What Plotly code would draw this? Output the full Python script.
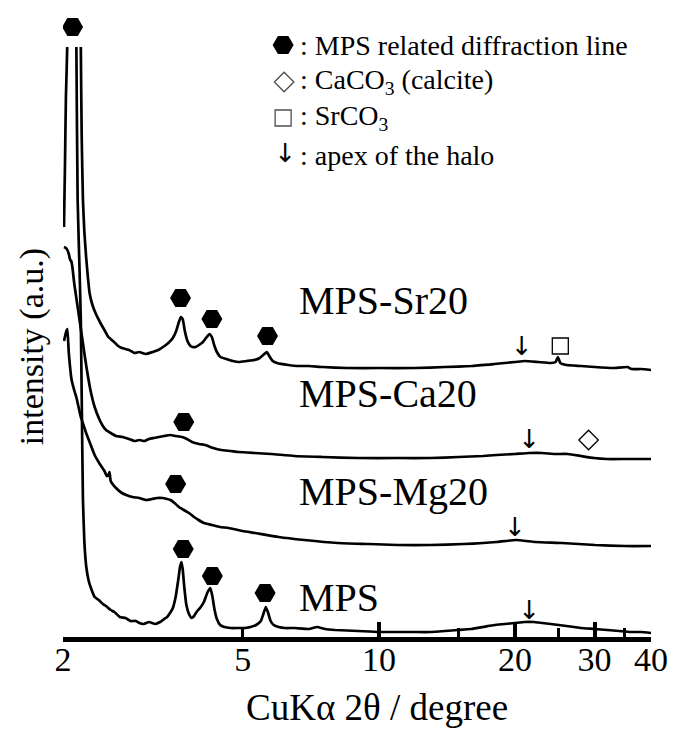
import plotly.graph_objects as go

# ---------------- data (2θ in degrees, intensity in arbitrary stacked units) ----------------
mps_x = [2.01, 2.02, 2.03, 2.046, 2.07, 2.09, 2.11, 2.13, 2.141, 2.155, 2.175, 2.19, 2.2, 2.214,
         2.23, 2.252, 2.28, 2.31, 2.35, 2.4, 2.45, 2.49, 2.55, 2.6, 2.67, 2.75, 2.82, 2.9, 2.95,
         3.02, 3.1, 3.2, 3.28, 3.35, 3.4, 3.45, 3.5, 3.55, 3.6, 3.63, 3.656, 3.68, 3.71, 3.75,
         3.8, 3.853, 3.9, 3.95, 4.02, 4.1, 4.17, 4.236, 4.28, 4.33, 4.38, 4.455, 4.55, 4.7,
         4.886, 5.05, 5.2, 5.35, 5.48, 5.56, 5.62, 5.68, 5.76, 5.85, 6.0, 6.2, 6.5, 7.0, 7.3,
         7.6, 8.0, 9.0, 10, 11, 12, 13, 14, 15, 16, 17, 18, 19, 20, 21, 22, 23, 24, 25, 26, 27,
         28, 30, 32, 34, 36, 38, 40]
mps_y = [410, 470, 540, 600, 1000, 1400, 1300, 800, 590, 437, 370, 317, 240, 137,
         95, 70, 56, 48, 40, 37, 33, 31, 27, 25, 20, 19, 16, 16, 14,
         13, 15, 13, 15, 18, 20, 24, 29, 40, 58, 70, 75, 68, 50, 32,
         23, 19, 21, 25, 29, 35, 44, 49, 41, 27, 18, 12, 10, 9,
         9, 9, 10, 12, 16, 24, 30, 25, 16, 12, 10, 9, 9, 8, 10,
         8, 7, 6, 5, 5, 5, 5, 6, 7, 8, 10, 12, 13, 14, 15, 15, 14, 13, 12, 11, 10,
         9, 8, 7, 6, 5, 5, 4]

sr_x = [2.0, 2.05, 2.1, 2.15, 2.19, 2.2, 2.214, 2.23, 2.25, 2.27, 2.29, 2.32, 2.36, 2.42, 2.47,
        2.52, 2.58, 2.65, 2.7, 2.8, 2.88, 2.95, 3.05, 3.16, 3.25, 3.33, 3.42, 3.5, 3.56, 3.61,
        3.645, 3.68, 3.72, 3.77, 3.83, 3.87, 3.93, 4.0, 4.08, 4.16, 4.22, 4.27, 4.32, 4.38,
        4.46, 4.6, 4.75, 4.9, 5.1, 5.3, 5.45, 5.58, 5.65, 5.72, 5.82, 5.95, 6.3, 6.6, 7.0, 7.5,
        8.5, 10, 12, 14, 16, 18, 20, 21, 22.5, 24, 24.6, 24.9, 25.2, 26, 28, 30, 33, 35.5,
        36.2, 38, 40]
sr_y = [900, 1300, 1800, 1200, 590, 500, 437, 405, 380, 360, 344, 333, 324, 314, 307,
        300, 296, 291, 289, 287, 284, 285, 283, 285, 287, 290, 294, 299, 306, 315,
        320, 318, 306, 296, 291, 290, 290, 292, 295, 300, 303, 300, 292, 285,
        280, 278, 276, 275, 276, 277, 279, 283, 285, 281, 276, 274, 272, 271, 271, 270,
        269, 269, 269, 270, 271, 273, 275, 276, 275, 274, 275, 280, 274, 272, 271, 270, 269, 270,
        268, 268, 267]

ca_x = [2.01, 2.03, 2.045, 2.06, 2.075, 2.085, 2.095, 2.12, 2.16, 2.2, 2.25, 2.3, 2.35, 2.4,
        2.45, 2.49, 2.55, 2.62, 2.71, 2.8, 2.88, 2.95, 3.03, 3.1, 3.18, 3.26, 3.35, 3.45, 3.55,
        3.67, 3.76, 3.86, 4.0, 4.13, 4.3, 4.48, 4.7, 4.89, 5.3, 5.78, 6.5, 7.5, 9, 11, 13, 15,
        17, 18.2, 20, 21.5, 23, 24.5, 26.2, 28, 29.9, 32, 35, 40]
ca_y = [390, 389, 387, 383, 377, 376, 372, 352, 327, 302, 272, 247, 230, 219,
        211, 207, 204, 201, 200, 198, 196, 197, 196, 198, 199, 200, 201, 202, 201,
        200, 198, 195, 193, 192, 189, 187, 186, 185, 184, 183, 181, 180, 179, 179, 179, 180,
        181, 182, 183, 184, 184, 183, 183, 181, 179, 178, 178, 178]

mg_x = [2.01, 2.035, 2.045, 2.06, 2.09, 2.12, 2.14, 2.17, 2.19, 2.22, 2.25, 2.29, 2.35, 2.42,
        2.47, 2.5, 2.52, 2.535, 2.55, 2.62, 2.7, 2.76, 2.85, 2.95, 3.05, 3.15, 3.23, 3.32, 3.4,
        3.46, 3.53, 3.61, 3.7, 3.8, 3.9, 3.99, 4.1, 4.27, 4.45, 4.65, 5.0, 5.32, 6.0, 6.84, 8.1,
        9.5, 11, 13, 15.4, 17, 18.2, 20.1, 22.2, 25.4, 30.1, 35, 40]
mg_y = [296, 306, 308, 284, 257, 246, 240, 228, 220, 212, 204, 195, 182, 172,
        166, 161, 162, 165, 156, 149, 144, 142, 140, 139, 137, 138, 139, 139, 138,
        137, 134, 130, 127, 124, 120, 117, 114, 112, 110, 109, 106, 104, 100, 97, 94,
        93, 92, 92, 93, 94, 95, 97, 95, 94, 92, 91, 91]

# marker annotations on the patterns
hex_x = [2.10, 3.64, 4.27, 5.67, 3.70, 3.55, 3.69, 4.28, 5.60]
hex_y = [610, 339, 318, 301, 215, 153, 88, 61, 44]
arrow_x = [20.7, 21.5, 20.0, 21.5]
arrow_y = [289, 196, 108, 25]
calcite_x = [29.1]
calcite_y = [197]
srco3_x = [25.2]
srco3_y = [291]

sample_labels = ["MPS-Sr20", "MPS-Ca20", "MPS-Mg20", "MPS"]
legend_texts = [": MPS related diffraction line", ": CaCO<sub>3</sub> (calcite)",
                ": SrCO<sub>3</sub>", ": apex of the halo"]
tick_vals = [2, 5, 10, 20, 30, 40]
tick_text = ["2", "5", "10", "20", "30", "40"]
major_ticks = [10, 20, 30, 40]
minor_ticks = [5, 15, 25, 35]

FONT = "Liberation Serif"
ARROW_FONT = "DejaVu Sans"
W, H = 673, 729
ML, MR, MT, MB = 63, 17, 5, 92
PW, PH = W - ML - MR, H - MT - MB          # plot area in px
Y_AXIS_BOTTOM = H - MB                     # pixel row of the x axis
CLIP_TOP = 47                              # curves are cut at this pixel row
LINES_H = Y_AXIS_BOTTOM - CLIP_TOP


def px(xp):
    return (xp - ML) / PW


def py(yp):
    return (Y_AXIS_BOTTOM - yp) / PH


fig = go.Figure()
# curves: on y axis whose domain stops at the clip row
for xs, ys in [(mps_x, mps_y), (sr_x, sr_y), (ca_x, ca_y), (mg_x, mg_y)]:
    fig.add_trace(go.Scatter(x=xs, y=ys, mode="lines", xaxis="x", yaxis="y",
                             line=dict(color="black", width=2.7, shape="spline", smoothing=0.4),
                             showlegend=False, hoverinfo="skip"))
# invisible traces so that the tick overlay axes are drawn
for ax in ["x2", "x4"]:
    fig.add_trace(go.Scatter(x=[10], y=[-100], xaxis=ax, yaxis="y", mode="markers",
                             marker=dict(opacity=0), showlegend=False, hoverinfo="skip"))

# markers: on y2 which has the same scale but spans the full height
fig.add_trace(go.Scatter(x=hex_x, y=hex_y, mode="markers", xaxis="x", yaxis="y2",
                         marker=dict(symbol="hexagon2", size=21, color="black"), showlegend=False))
fig.add_trace(go.Scatter(x=arrow_x, y=arrow_y, mode="text", text=["↓"] * len(arrow_x),
                         xaxis="x", yaxis="y2",
                         textfont=dict(family=ARROW_FONT, size=26, color="black"), showlegend=False))
fig.add_trace(go.Scatter(x=calcite_x, y=calcite_y, mode="markers", xaxis="x", yaxis="y2",
                         marker=dict(symbol="diamond-open", size=15, color="black",
                                     line=dict(width=1.3, color="black")), showlegend=False))
fig.add_trace(go.Scatter(x=srco3_x, y=srco3_y, mode="markers", xaxis="x", yaxis="y2",
                         marker=dict(symbol="square-open", size=16, color="black",
                                     line=dict(width=1.3, color="black")), showlegend=False))

# legend keys on a pixel-unit overlay subplot
fig.add_trace(go.Scatter(x=[285], y=[45], mode="markers", xaxis="x3", yaxis="y3",
                         showlegend=False,
                         marker=dict(symbol="hexagon2", size=21, color="black")))
fig.add_trace(go.Scatter(x=[286, 285], y=[82, 118], mode="markers",
                         xaxis="x3", yaxis="y3", showlegend=False,
                         marker=dict(symbol=["diamond-open", "square-open"],
                                     size=[15, 16], color="black",
                                     line=dict(width=1.3, color="black"))))
fig.add_trace(go.Scatter(x=[287], y=[155], mode="text", text=["↓"],
                         xaxis="x3", yaxis="y3", showlegend=False,
                         textfont=dict(family=ARROW_FONT, size=26, color="black")))

annotations = []
for lab, yp in zip(sample_labels, [300, 394, 491, 597]):
    annotations.append(dict(text=lab, xref="paper", yref="paper", x=px(299), y=py(yp),
                            xanchor="left", yanchor="middle", showarrow=False,
                            font=dict(family=FONT, size=40, color="black")))
for t, yp in zip(legend_texts, [45, 82, 118, 155]):
    annotations.append(dict(text=t, xref="paper", yref="paper", x=px(300), y=py(yp),
                            xanchor="left", yanchor="middle", showarrow=False,
                            font=dict(family=FONT, size=28, color="black")))
annotations.append(dict(text="intensity (a.u.)", xref="paper", yref="paper", x=px(32), y=py(347),
                        xanchor="center", yanchor="middle", textangle=-90, showarrow=False,
                        font=dict(family=FONT, size=34, color="black")))
annotations.append(dict(text="CuKα 2θ / degree", xref="paper", yref="paper", x=px(380), y=py(707),
                        xanchor="center", yanchor="middle", showarrow=False,
                        font=dict(family=FONT, size=37, color="black")))

xr = [0.30103, 1.60206]
fig.update_layout(
    width=W, height=H, margin=dict(l=ML, r=MR, t=MT, b=MB),
    paper_bgcolor="white", plot_bgcolor="rgba(0,0,0,0)", showlegend=False,
    font=dict(family=FONT, color="black"),
    xaxis=dict(type="log", range=xr, tickvals=tick_vals, ticktext=tick_text, ticks="",
               anchor="y", showline=True, linewidth=5, linecolor="black", showgrid=False,
               zeroline=False, ticklabelstandoff=-12,
               tickfont=dict(family=FONT, size=34, color="black")),
    xaxis2=dict(type="log", range=xr, overlaying="x", anchor="y", side="bottom",
                tickvals=major_ticks, ticks="inside", ticklen=15, tickwidth=3.5,
                tickcolor="black", showticklabels=False, showgrid=False, zeroline=False,
                showline=False),
    xaxis4=dict(type="log", range=xr, overlaying="x", anchor="y", side="bottom",
                tickvals=minor_ticks, ticks="inside", ticklen=9, tickwidth=3,
                tickcolor="black", showticklabels=False, showgrid=False, zeroline=False,
                showline=False),
    yaxis=dict(domain=[0, LINES_H / PH], range=[0, LINES_H], anchor="x", visible=False,
               showgrid=False, zeroline=False),
    yaxis2=dict(domain=[0, 1], range=[0, PH], anchor="x", visible=False,
                showgrid=False, zeroline=False),
    xaxis3=dict(range=[ML, W - MR], overlaying="x", anchor="y3", visible=False),
    yaxis3=dict(range=[Y_AXIS_BOTTOM, MT], overlaying="y2", anchor="x3", visible=False),
    annotations=annotations,
)

fig.write_html("out.html")
